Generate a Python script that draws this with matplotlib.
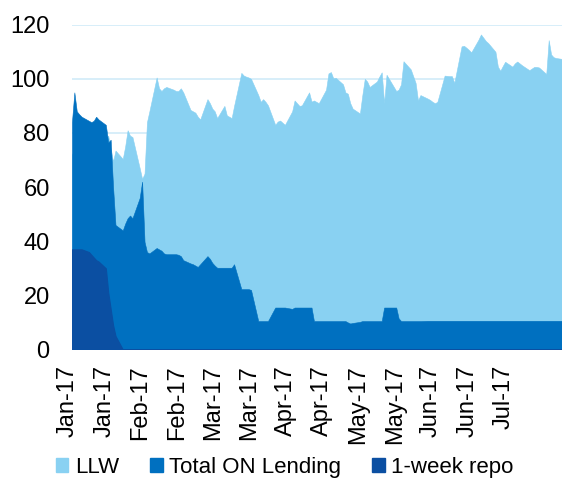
import numpy as np
import pandas as pd
import matplotlib
matplotlib.use('Agg')
import matplotlib.pyplot as plt
import matplotlib.dates as mdates
from matplotlib.patches import Patch
from matplotlib.transforms import ScaledTranslation

plt.rcParams['font.family'] = ['Liberation Sans', 'DejaVu Sans']

# business days, Jan 2 2017 - Jul 24 2017
dates = pd.bdate_range('2017-01-02', '2017-07-24')

llw = [72, 74, 75, 74, 73,
       74, 75, 76, 77, 77,
       78, 79, 74, 69.5, 73.5,
       70.4, 75, 81, 79, 78.5,
       67, 63, 65, 84, 88,
       100.5, 96.5, 95.5, 96.5, 97,
       96, 95.5, 95.5, 96.5, 95,
       88.5, 88, 87.5, 86, 85,
       92.5, 91, 89, 88, 85.5,
       90, 86.5, 86, 85.5, 90,
       102.2, 101.2, 100.8, 100.5, 100,
       94, 91.5, 92.5, 91.5, 90.2,
       83, 84.2, 84.6, 83.8, 83,
       88, 92, 91, 90, 90.2,
       95, 91.6, 92, 91.5, 91,
       96, 102, 102.5, 100.2, 100.4,
       98, 95, 94.5, 91, 89,
       87.2, 94, 100, 99, 97,
       99, 100.8, 102.4, 91, 101.5,
       97, 95.5, 96, 98, 106.5,
       103.5, 101, 98.5, 92, 94,
       92.7, 92.2, 91.5, 91, 91.5,
       101.2, 101.1, 101, 101, 98.5,
       112, 112.2, 111.5, 110.7, 109.8,
       114.5, 116.4, 115.2, 114, 113.2,
       110, 104.5, 103, 104.7, 106.3,
       104.5, 105.7, 106.4, 105.7, 105,
       103.2, 103.8, 104.4, 104.4, 104.2,
       101.8, 114.3, 109, 108, 107.7,
       107.3]

on_lending = [84, 95, 88, 86.9, 86,
              84.5, 84, 84.5, 86, 85,
              83, 76.5, 77.5, 60, 46,
              44, 46.5, 48.5, 49.5, 48.5,
              56, 62, 39.8, 36, 35.5,
              37.5, 37, 36.5, 35.5, 35.2,
              35.2, 35.2, 35, 34.5, 33,
              31.8, 31.5, 31, 30.5, 31.5,
              34.5, 33.5, 32, 31, 30.2,
              30.2, 30.2, 30.2, 30.2, 31.5,
              22.3, 22.3, 22.3, 22.3, 22,
              10.5, 10.5, 10.5, 10.5, 10.5,
              15.5, 15.5, 15.5, 15.5, 15.5,
              15, 15.5, 15.5, 15.5, 15.5,
              15.5, 15.5, 10.5, 10.5, 10.5,
              10.5, 10.5, 10.5, 10.5, 10.5,
              10.5, 10.5, 10, 9.6, 9.8,
              10.2, 10.5, 10.5, 10.5, 10.5,
              10.5, 10.5, 10.5, 15.5, 15.5,
              15.5, 15.5, 11.5, 10.5, 10.5,
              10.5, 10.5, 10.5, 10.5, 10.5,
              10.6, 10.6, 10.6, 10.6, 10.6,
              10.6, 10.6, 10.6, 10.6, 10.6,
              10.6, 10.6, 10.6, 10.6, 10.6,
              10.6, 10.6, 10.6, 10.6, 10.6,
              10.6, 10.6, 10.6, 10.6, 10.6,
              10.6, 10.6, 10.6, 10.6, 10.6,
              10.6, 10.6, 10.6, 10.6, 10.6,
              10.6, 10.6, 10.6, 10.6, 10.6,
              10.6]

repo = [37, 37, 37, 37, 37,
        36, 35, 34, 33, 32.5,
        30, 21, 15, 9, 5] + [0] * 131

tick_dates = pd.date_range('2017-01-02', periods=13, freq='15D')

c_llw = '#89D1F2'
c_on = '#0070C0'
c_repo = '#0B4FA2'

fig = plt.figure(figsize=(5.62, 4.79), dpi=100)
ax = fig.add_axes([0.128, 0.2704, 0.872, 0.6780])

ax.fill_between(dates, llw, color=c_llw, lw=0.4, ec=c_llw, zorder=2)
ax.fill_between(dates, on_lending, color=c_on, lw=0.4, ec=c_on, zorder=3)
ax.fill_between(dates, repo, color=c_repo, lw=0.8, ec=c_repo, zorder=4)

ax.set_ylim(0, 120)
ax.set_yticks(np.arange(0, 121, 20))
ax.set_xlim(dates[0], dates[0] + pd.Timedelta(days=202.5))
ax.set_xticks(tick_dates)
ax.xaxis.set_major_formatter(mdates.DateFormatter('%b-%y'))

ax.grid(axis='y', color='#D4EDF9', lw=1.3, zorder=0)
ax.set_axisbelow(True)
for s in ax.spines.values():
    s.set_visible(False)

ax.tick_params(axis='y', length=0, pad=16, labelsize=17, colors='black')
ax.tick_params(axis='x', length=0, pad=11, labelsize=17, colors='black')
for lab in ax.get_xticklabels():
    lab.set_rotation(90)
    lab.set_ha('center')
    lab.set_transform(lab.get_transform() + ScaledTranslation(-4 / 100, 0, fig.dpi_scale_trans))

handles = [Patch(color=c_llw, label='LLW'),
           Patch(color=c_on, label='Total ON Lending'),
           Patch(color=c_repo, label='1-week repo')]
fig.legend(handles=handles, loc='center', bbox_to_anchor=(0.507, 0.024), ncol=3,
           frameon=False, fontsize=16, handlelength=0.55, handleheight=0.6,
           handletextpad=0.3, columnspacing=1.4, borderpad=0)

fig.savefig('out.png', dpi=100)
